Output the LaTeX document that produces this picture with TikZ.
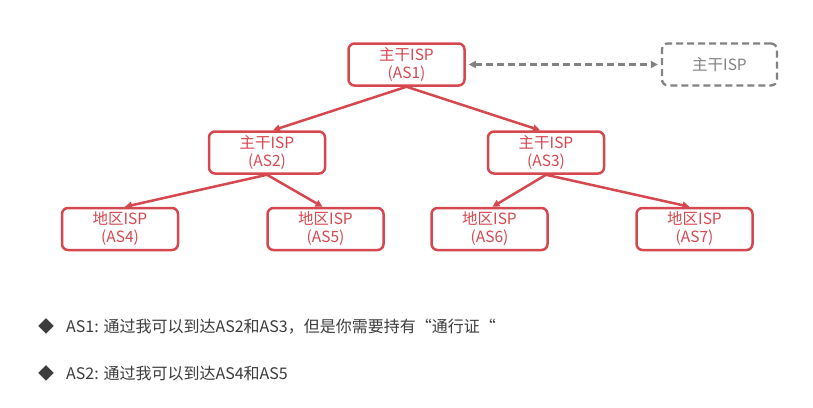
\documentclass[tikz,border=0pt]{standalone}
\usepackage{fontspec}
\setmainfont{Noto Sans CJK SC}
\newfontfamily\cjk{Noto Sans CJK SC}
\usetikzlibrary{arrows.meta}
\definecolor{isp}{RGB}{214,72,80}
\definecolor{dgray}{RGB}{130,130,130}
\definecolor{txt}{RGB}{60,60,60}
\begin{document}
\begin{tikzpicture}[x=1pt,y=-1pt,
  ispbox/.style={draw=isp, line width=2.5pt, rounded corners=6pt, text=isp,
    minimum width=116pt, minimum height=42pt, inner sep=0pt, align=center,
    font=\cjk\fontsize{15.5}{18}\selectfont},
  dashbox/.style={draw=dgray, dash pattern=on 7pt off 4pt, line width=2.3pt, rounded corners=6pt, text=dgray,
    minimum width=115pt, minimum height=42pt, inner sep=0pt, align=center,
    font=\cjk\fontsize{15.5}{18}\selectfont},
  link/.style={draw=isp, line width=2.5pt, -{Triangle[length=7pt,width=7pt]}},
  bullettext/.style={anchor=west, text=txt, inner sep=0pt, font=\cjk\fontsize{16}{19}\selectfont}
]
\useasboundingbox[fill=white] (0,0) rectangle (813,407);

\node[ispbox] (as1) at (406.5,64.5) {主干ISP\\(AS1)};
\node[dashbox] (bb) at (719.5,64.5) {主干ISP};
\node[ispbox] (as2) at (267,152.5) {主干ISP\\(AS2)};
\node[ispbox] (as3) at (546,152.5) {主干ISP\\(AS3)};
\node[ispbox] (as4) at (120,229) {地区ISP\\(AS4)};
\node[ispbox] (as5) at (325.5,229) {地区ISP\\(AS5)};
\node[ispbox] (as6) at (489.5,229) {地区ISP\\(AS6)};
\node[ispbox] (as7) at (694.5,229) {地区ISP\\(AS7)};

\draw[link] (as1.south) -- ([xshift=6pt]as2.north);
\draw[link] (as1.south) -- ([xshift=-6pt]as3.north);
\draw[link] (as2.south) -- ([xshift=5pt]as4.north);
\draw[link] (as2.south) -- ([xshift=-3pt]as5.north);
\draw[link] (as3.south) -- ([xshift=3pt]as6.north);
\draw[link] (as3.south) -- ([xshift=-5pt]as7.north);

\draw[draw=dgray, line width=2.3pt, dash pattern=on 7pt off 4pt,
  {Triangle[length=7pt,width=7pt]}-{Triangle[length=7pt,width=7pt]}]
  ([xshift=3pt]as1.east) -- ([xshift=-3pt]bb.west);

\node[bullettext] (b1) at (38,326) {◆\hspace{12pt}AS1: 通过我可以到达AS2和AS3，但是你需要持有“通行证“};
\node[bullettext] (b2) at (38,373) {◆\hspace{12pt}AS2: 通过我可以到达AS4和AS5};
\end{tikzpicture}
\end{document}
